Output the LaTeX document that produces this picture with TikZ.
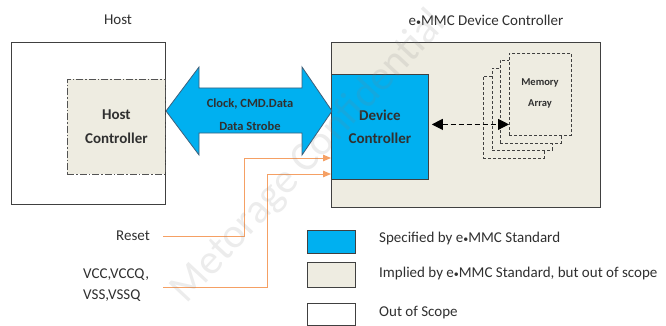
\documentclass[tikz,border=0pt]{standalone}
\usepackage{fontspec}
\setmainfont{Carlito}
\usetikzlibrary{arrows.meta}
\definecolor{emmcblue}{HTML}{00B0F0}
\definecolor{beige}{HTML}{EEECE1}
\definecolor{edge}{HTML}{404040}
\definecolor{arrowedge}{HTML}{3E5F7A}
\definecolor{sigorange}{HTML}{F5A064}
\definecolor{txt}{HTML}{303030}
\begin{document}
\begin{tikzpicture}[x=1pt,y=-1pt,
  box/.style={draw=edge, line width=0.8pt, inner sep=0pt, anchor=north west},
  lbl/.style={font=\fontsize{15}{21}\selectfont, text=txt, inner sep=0pt},
  boldlbl/.style={font=\bfseries\fontsize{15}{23.5}\selectfont, text=txt, align=center},
  membox/.style={draw=edge, line width=0.9pt, dash pattern=on 3pt off 2pt, fill=beige, inner sep=0pt, anchor=north west},
  sig/.style={draw=sigorange, line width=1pt, -{Triangle[length=8pt,width=6.5pt]}},
  sigline/.style={draw=sigorange, line width=1pt}
]
\useasboundingbox (0,0) rectangle (666,326);
\fill[white] (0,0) rectangle (666,326);

% titles
\node[lbl] (hosttitle) at (118,20) {Host};
\node[lbl] (emmctitle) at (486,20) {e{\fontsize{10}{10}\selectfont•}MMC Device Controller};

% host side
\node[box, minimum width=154pt, minimum height=162pt] (host) at (11,42) {};
\node[box, fill=beige, draw=edge!90, dash pattern=on 7pt off 2pt on 1.5pt off 2pt,
      minimum width=98pt, minimum height=95pt, boldlbl, anchor=north west] (hc) at (67,79) {Host\\Controller};

% device side
\node[box, fill=beige, minimum width=269pt, minimum height=165pt] (emmc) at (331,42) {};
\node[box, fill=emmcblue, minimum width=97pt, minimum height=105pt, boldlbl, anchor=north west] (dc) at (331,74) {Device\\Controller};

% memory array stack
\node[membox, minimum width=61pt, minimum height=82pt] (mem4) at (483,76) {};
\node[membox, minimum width=60pt, minimum height=82pt] (mem3) at (492,68) {};
\node[membox, minimum width=61pt, minimum height=83pt] (mem2) at (500,60) {};
\node[membox, minimum width=62pt, minimum height=82pt] (mem1) at (509,53) {};
\node[font=\bfseries\fontsize{10.5}{21}\selectfont, text=txt, align=center] (memtext) at (540,93.5) {Memory\\Array};

\draw[line width=1pt, dash pattern=on 5pt off 3pt,
      {Triangle[length=11pt,width=11pt]}-{Triangle[length=11pt,width=11pt]}, shorten <=3pt]
  ([yshift=2.5pt]dc.east) -- ([yshift=2.5pt]dc.east -| mem1.west);

% bus double arrow
\coordinate (busL) at (166,111);
\coordinate (busR) at (332,111);
\draw[fill=emmcblue, draw=arrowedge, line width=0.8pt, line join=miter]
  (busL) -- ++(33,-44) -- ++(0,21) -- ++(103,0) -- ++(0,-21) -- (busR)
  -- ++(-30,44) -- ++(0,-22) -- ++(-103,0) -- ++(0,22) -- cycle;
\node[font=\bfseries\fontsize{12.5}{23}\selectfont, text=txt, align=center] (bustext) at (250,114.5) {Clock, CMD.Data\\Data Strobe};

% signals
\node[lbl] (reset) at (133,236) {Reset};
\node[lbl, align=left, anchor=west] (vcc) at (83,285.5) {VCC,VCCQ,\\VSS,VSSQ};
\coordinate (rs) at (163,236);
\coordinate (vs) at (163,287);
\coordinate (rbend) at (244,158);
\coordinate (vbend) at (267,174);
\coordinate (rt) at (331,158);
\coordinate (vt) at (331,174);
\draw[sigline] (rs) -| (rbend);
\draw[sig] (rbend) -- (rt);
\draw[sigline] (vs) -| (vbend);
\draw[sig] (vbend) -- (vt);

% legend
\node[box, fill=emmcblue, minimum width=48pt, minimum height=23pt] (lg1) at (307,230) {};
\node[box, fill=beige, minimum width=48pt, minimum height=25pt] (lg2) at (307,262) {};
\node[box, fill=white, minimum width=48pt, minimum height=22pt] (lg3) at (307,303) {};
\node[lbl, anchor=west] (lt1) at (379,238) {Specified by e{\fontsize{10}{10}\selectfont•}MMC Standard};
\node[lbl, anchor=west] (lt2) at (379,273) {Implied by e{\fontsize{10}{10}\selectfont•}MMC Standard, but out of scope};
\node[lbl, anchor=west] (lt3) at (379,313) {Out of Scope};

% watermark (faint, on top)
\node[rotate=47, font=\fontsize{42}{42}\selectfont, text=gray, opacity=0.15] (wm) at (309,157) {Metorage Confidential};
\end{tikzpicture}
\end{document}
